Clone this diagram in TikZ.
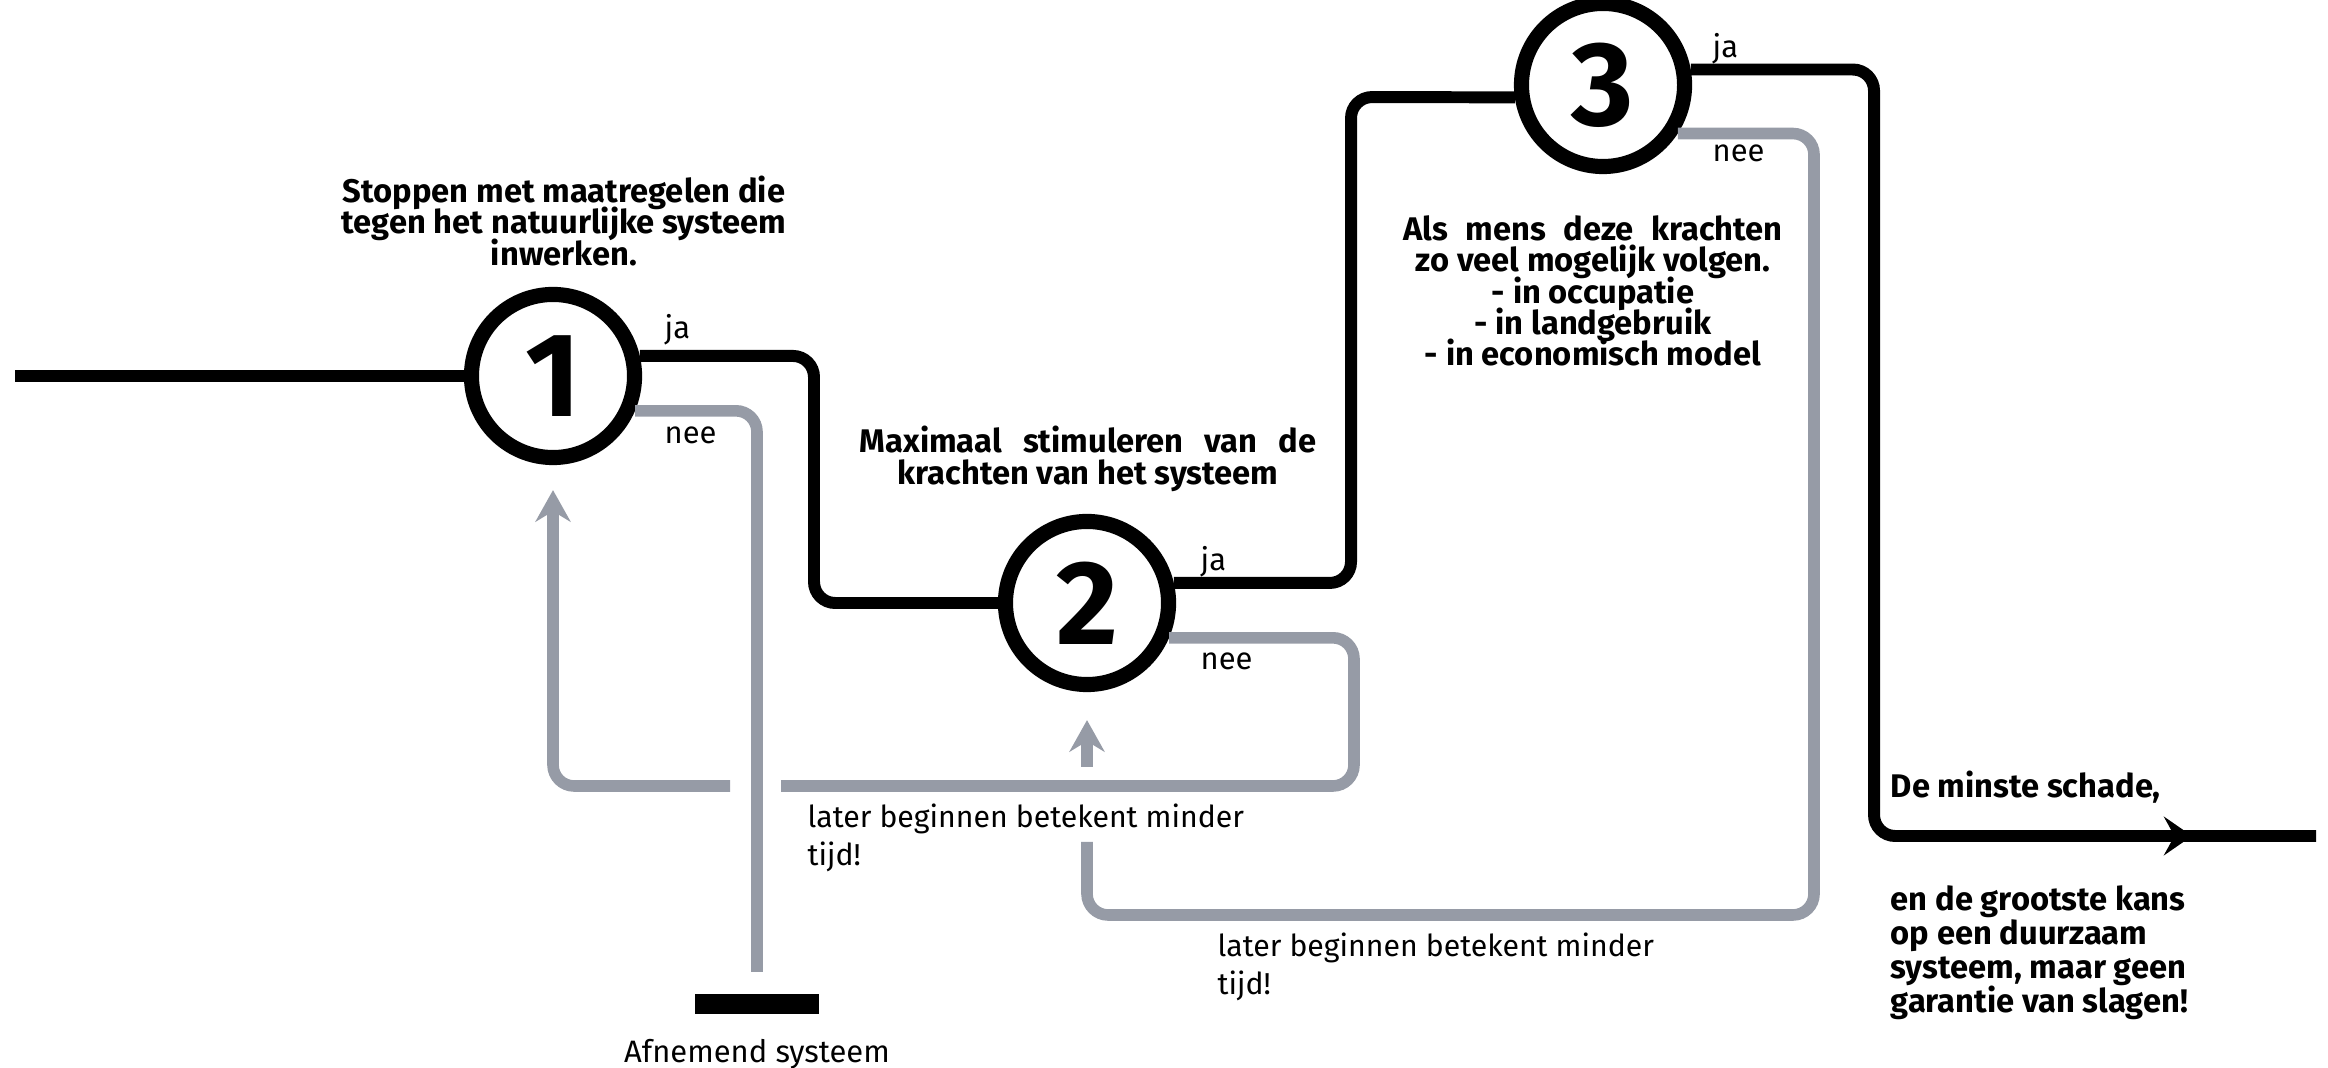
\documentclass[tikz,border=0pt]{standalone}
\usepackage{fontspec}
\setmainfont{Fira Sans}
\usetikzlibrary{arrows.meta}
\definecolor{lusgrijs}{RGB}{150,155,166}
\newcommand{\krap}{\lineskiplimit=-5pt\relax}

\begin{document}
\begin{tikzpicture}[x=0.01cm, y=-0.01cm,
    stap/.style={circle, draw=black, line width=4.3pt, fill=white, minimum size=1.63cm,
        inner sep=0pt, font=\fontsize{34}{34}\selectfont\bfseries},
    jalijn/.style={black, line width=3.4pt, rounded corners=6pt},
    neelijn/.style={lusgrijs, line width=3.3pt, rounded corners=6pt},
    kop/.style={align=center, font=\fontsize{9.3}{8.9}\selectfont\bfseries\krap},
    keuze/.style={anchor=west, inner sep=0pt, font=\fontsize{8.8}{10}\selectfont},
    notitie/.style={anchor=west, align=left, inner sep=0pt, font=\fontsize{8.6}{11}\selectfont}]

    \useasboundingbox (0,0) rectangle (2328,1068);

    % stappen
    \node[stap] (c1) at (553,376) {1};
    \node[stap] (c2) at (1087,603) {2};
    \node[stap] (c3) at (1603,85) {3};

    % vrije eindpunten
    \coordinate (begin) at (15,376);
    \coordinate (einde) at (2316,836);
    \coordinate (pijl) at (2192,836);
    \coordinate (stopnee) at (757,972);
    \coordinate (kruis) at (730,786);
    \coordinate (stam) at (1087,767);
    \coordinate (terug) at (1087,842);

    % zwarte lijn (ja)
    \draw[jalijn] (begin) -- (c1);
    \draw[jalijn] (c1.13) -| (814,603) -- (c2);
    \draw[jalijn] (c2.13) -| (1351,97) -- (c3.188);
    \draw[jalijn] (c3.10) -| (1874,836) -- (einde);
    \draw[jalijn, -{Stealth[length=8pt, width=11pt, inset=3pt]}] (2150,836) -- (pijl);

    % grijze lijnen (nee)
    \draw[neelijn] (c1.-23) -| (stopnee);
    \node[fill=black, minimum width=1.23cm, minimum height=0.19cm, inner sep=0pt] (balk) at (757,1004) {};

    \draw[neelijn] (c2.-23) -| (1354,786) -- (781,786);
    \draw[neelijn, -{Stealth[length=9pt, width=10pt, inset=3pt]}, shorten >=0.25cm] (kruis) -| (c1.south);
    \draw[neelijn, -{Stealth[length=9pt, width=10pt, inset=3pt]}, shorten >=0.28cm] (stam) -- (c2.south);

    \draw[neelijn] (c3.-33) -| (1814,915) -| (terug);

    % ja / nee
    \node[keuze] (ja1) at (664,330) {ja};
    \node[keuze] (nee1) at (664,435) {nee};
    \node[keuze] (ja2) at (1200,562) {ja};
    \node[keuze] (nee2) at (1200,661) {nee};
    \node[keuze] (ja3) at (1712,49) {ja};
    \node[keuze] (nee3) at (1712,153) {nee};

    % teksten
    \node[kop] (stoppen) at (564,221) {Stoppen met maatregelen die\\tegen het natuurlijke systeem\\inwerken.};
    \node[kop] (maximaal) at (1088,459) {{\spaceskip=6pt Maximaal stimuleren van de}\\krachten van het systeem};
    \node[kop] (volgen) at (1593,291) {{\spaceskip=5pt Als mens deze krachten}\\zo veel mogelijk volgen.\\- in occupatie\\- in landgebruik\\- in economisch model};
    \node[kop, anchor=west, align=left, inner sep=0pt] (schade) at (1890,787) {De minste schade,};
    \node[kop, anchor=west, align=left, inner sep=0pt, font=\fontsize{9.3}{9.7}\selectfont\bfseries\krap] (kans) at (1890,953) {en de grootste kans\\op een duurzaam\\systeem, maar geen\\garantie van slagen!};

    \node[notitie] (later1) at (807,838) {later beginnen betekent minder\\tijd!};
    \node[notitie] (later2) at (1217,967) {later beginnen betekent minder\\tijd!};
    \node[font=\fontsize{8.8}{10}\selectfont] (afnemend) at (757,1054) {Afnemend systeem};

\end{tikzpicture}
\end{document}
